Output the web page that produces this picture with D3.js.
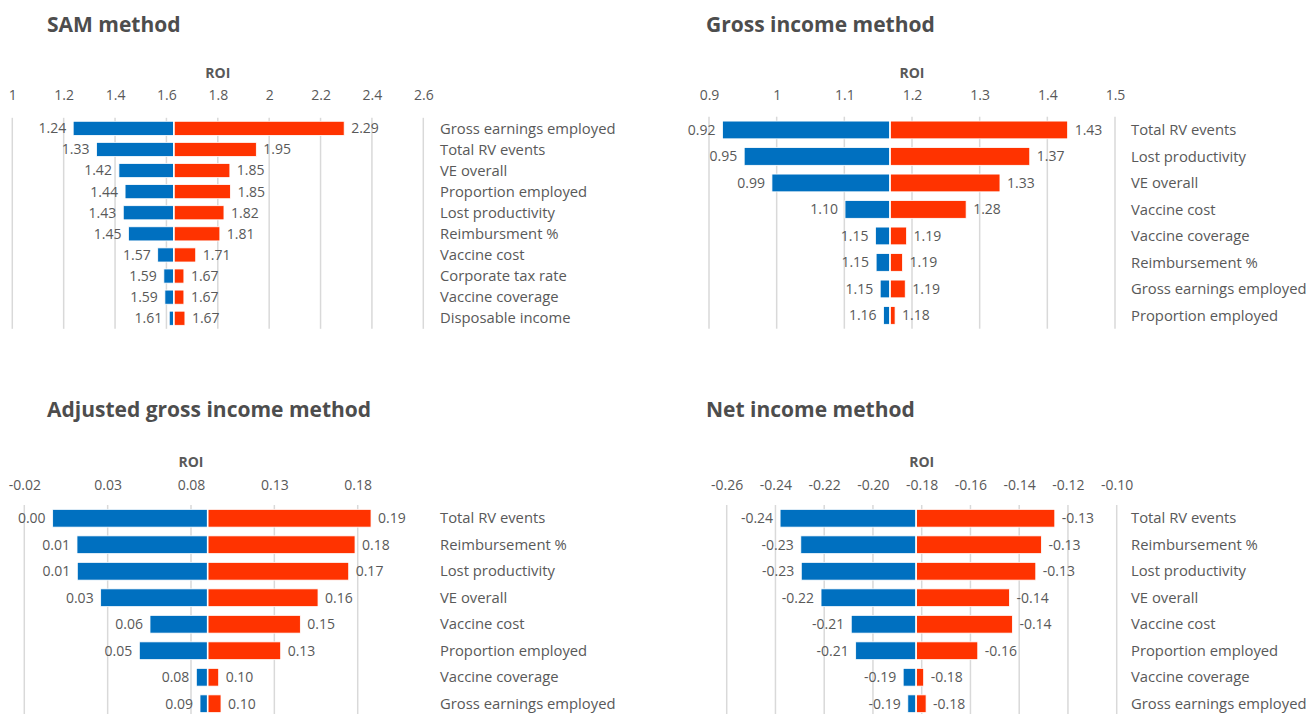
<!DOCTYPE html>
<html>
<head>
<meta charset="utf-8">
<script src="https://cdn.jsdelivr.net/npm/d3@7"></script>
<style>
  html, body { margin: 0; padding: 0; background: #fff; }
  svg { display: block; }
  text { font-family: "Open Sans", "Noto Sans", sans-serif; }
</style>
</head>
<body>
<svg id="chart" width="1309" height="714"></svg>
<script>
// ---------- DATA ----------
const samTitle = "SAM method";
const samCategories = ["Gross earnings employed", "Total RV events", "VE overall", "Proportion employed", "Lost productivity", "Reimbursment %", "Vaccine cost", "Corporate tax rate", "Vaccine coverage", "Disposable income"];
const samLow  = [1.237, 1.328, 1.415, 1.439, 1.432, 1.452, 1.566, 1.590, 1.594, 1.611];
const samHigh = [2.292, 1.950, 1.847, 1.849, 1.824, 1.808, 1.714, 1.668, 1.668, 1.672];
const samBase = 1.629;
const samTicks = [1, 1.2, 1.4, 1.6, 1.8, 2, 2.2, 2.4, 2.6];
const samTickLabels = ["1", "1.2", "1.4", "1.6", "1.8", "2", "2.2", "2.4", "2.6"];

const grossTitle = "Gross income method";
const grossCategories = ["Total RV events", "Lost productivity", "VE overall", "Vaccine cost", "Vaccine coverage", "Reimbursement %", "Gross earnings employed", "Proportion employed"];
const grossLow  = [0.920, 0.952, 0.993, 1.101, 1.146, 1.147, 1.153, 1.158];
const grossHigh = [1.430, 1.374, 1.330, 1.280, 1.192, 1.186, 1.190, 1.175];
const grossBase = 1.1675;
const grossTicks = [0.9, 1.0, 1.1, 1.2, 1.3, 1.4, 1.5];
const grossTickLabels = ["0.9", "1", "1.1", "1.2", "1.3", "1.4", "1.5"];

const adjTitle = "Adjusted gross income method";
const adjCategories = ["Total RV events", "Reimbursement %", "Lost productivity", "VE overall", "Vaccine cost", "Proportion employed", "Vaccine coverage", "Gross earnings employed"];
const adjLow  = [-0.003, 0.0116, 0.0118, 0.0258, 0.0554, 0.049, 0.0832, 0.0854];
const adjHigh = [0.188, 0.1784, 0.1746, 0.1562, 0.1456, 0.1338, 0.0966, 0.098];
const adjBase = 0.090;
const adjTicks = [-0.02, 0.03, 0.08, 0.13, 0.18];
const adjTickLabels = ["-0.02", "0.03", "0.08", "0.13", "0.18"];

const netTitle = "Net income method";
const netCategories = ["Total RV events", "Reimbursement %", "Lost productivity", "VE overall", "Vaccine cost", "Proportion employed", "Vaccine coverage", "Gross earnings employed"];
const netLow  = [-0.2381, -0.2296, -0.2294, -0.2213, -0.2089, -0.2071, -0.1876, -0.1857];
const netHigh = [-0.1254, -0.1309, -0.1332, -0.1440, -0.1428, -0.1570, -0.1792, -0.1782];
const netBase = -0.1823;
const netTicks = [-0.26, -0.24, -0.22, -0.20, -0.18, -0.16, -0.14, -0.12, -0.10];
const netTickLabels = ["-0.26", "-0.24", "-0.22", "-0.20", "-0.18", "-0.16", "-0.14", "-0.12", "-0.10"];

const axisTitle = "ROI";

// ---------- LAYOUT ----------
const BLUE = "#0070C0", RED = "#FF3300", GRID = "#d9d9d9", TXT = "#595959", TITLE = "#4d4d4d";
const fmt = d3.formatLocale({decimal: ".", thousands: ",", grouping: [3], currency: ["", ""], minus: "-"}).format(".2f");

const panels = [
  {title: samTitle, cats: samCategories, low: samLow, high: samHigh, base: samBase, ticks: samTicks, tickLabels: samTickLabels,
   x0: 12.3, x1: 423.3, yTop: 117.8, yBot: 328.8, titleX: 47, titleY: 31.5, tickY: 100, roiY: 78, catX: 440},
  {title: grossTitle, cats: grossCategories, low: grossLow, high: grossHigh, base: grossBase, ticks: grossTicks, tickLabels: grossTickLabels,
   x0: 709, x1: 1115, yTop: 116.7, yBot: 328.7, titleX: 706, titleY: 31.5, tickY: 100, roiY: 78, catX: 1131},
  {title: adjTitle, cats: adjCategories, low: adjLow, high: adjHigh, base: adjBase, ticks: adjTicks, tickLabels: adjTickLabels,
   x0: 24.3, x1: 357.7, yTop: 505, yBot: 717, titleX: 47, titleY: 417, tickY: 490, roiY: 467, catX: 440},
  {title: netTitle, cats: netCategories, low: netLow, high: netHigh, base: netBase, ticks: netTicks, tickLabels: netTickLabels,
   x0: 726.7, x1: 1116.7, yTop: 505, yBot: 717, titleX: 706, titleY: 417, tickY: 490, roiY: 467, catX: 1131}
];

const svg = d3.select("#chart");

panels.forEach(p => {
  const g = svg.append("g");
  const x = d3.scaleLinear().domain([p.ticks[0], p.ticks[p.ticks.length - 1]]).range([p.x0, p.x1]);
  const y = d3.scaleBand().domain(p.cats).range([p.yTop, p.yBot]).paddingInner(0.33).paddingOuter(0.165);

  // title
  g.append("text").attr("x", p.titleX).attr("y", p.titleY)
    .attr("font-size", 21).attr("font-weight", 700).attr("fill", TITLE).text(p.title);

  // axis title
  g.append("text").attr("x", (p.x0 + p.x1) / 2).attr("y", p.roiY).attr("text-anchor", "middle")
    .attr("font-size", 14).attr("font-weight", 700).attr("fill", TXT).text(axisTitle);

  // top axis (tick labels only)
  const axis = d3.axisTop(x).tickValues(p.ticks).tickSize(0).tickPadding(0)
    .tickFormat((d, i) => p.tickLabels[i]);
  const ag = g.append("g").attr("transform", `translate(0,${p.tickY})`).call(axis);
  ag.select(".domain").remove();
  ag.selectAll("text").attr("font-size", 14).attr("fill", TXT)
    .attr("font-family", '"Open Sans", "Noto Sans", sans-serif');

  // gridlines
  g.append("g").selectAll("line").data(p.ticks).join("line")
    .attr("x1", d => x(d)).attr("x2", d => x(d))
    .attr("y1", p.yTop).attr("y2", p.yBot)
    .attr("stroke", GRID).attr("stroke-width", 1.5);

  const rows = p.cats.map((c, i) => ({cat: c, low: p.low[i], high: p.high[i]}));

  // low bars
  g.append("g").selectAll("rect").data(rows).join("rect")
    .attr("x", d => x(d.low)).attr("width", d => x(p.base) - x(d.low))
    .attr("y", d => y(d.cat)).attr("height", y.bandwidth())
    .attr("fill", BLUE).attr("stroke", "#fff").attr("stroke-width", 0.8);
  // high bars
  g.append("g").selectAll("rect").data(rows).join("rect")
    .attr("x", x(p.base)).attr("width", d => x(d.high) - x(p.base))
    .attr("y", d => y(d.cat)).attr("height", y.bandwidth())
    .attr("fill", RED).attr("stroke", "#fff").attr("stroke-width", 0.8);

  // base separator
  g.append("line").attr("x1", x(p.base)).attr("x2", x(p.base))
    .attr("y1", p.yTop).attr("y2", p.yBot).attr("stroke", "#fff").attr("stroke-width", 1.6);

  // value labels
  g.append("g").selectAll("text").data(rows).join("text")
    .attr("x", d => x(d.low) - 7).attr("y", d => y(d.cat) + y.bandwidth() / 2)
    .attr("dy", "0.35em").attr("text-anchor", "end")
    .attr("font-size", 14).attr("fill", TXT).text(d => fmt(d.low));
  g.append("g").selectAll("text").data(rows).join("text")
    .attr("x", d => x(d.high) + 7).attr("y", d => y(d.cat) + y.bandwidth() / 2)
    .attr("dy", "0.35em").attr("text-anchor", "start")
    .attr("font-size", 14).attr("fill", TXT).text(d => fmt(d.high));

  // category labels
  g.append("g").selectAll("text").data(rows).join("text")
    .attr("x", p.catX).attr("y", d => y(d.cat) + y.bandwidth() / 2)
    .attr("dy", "0.35em").attr("font-size", 14.8).attr("fill", TXT).text(d => d.cat);
});
</script>
</body>
</html>
